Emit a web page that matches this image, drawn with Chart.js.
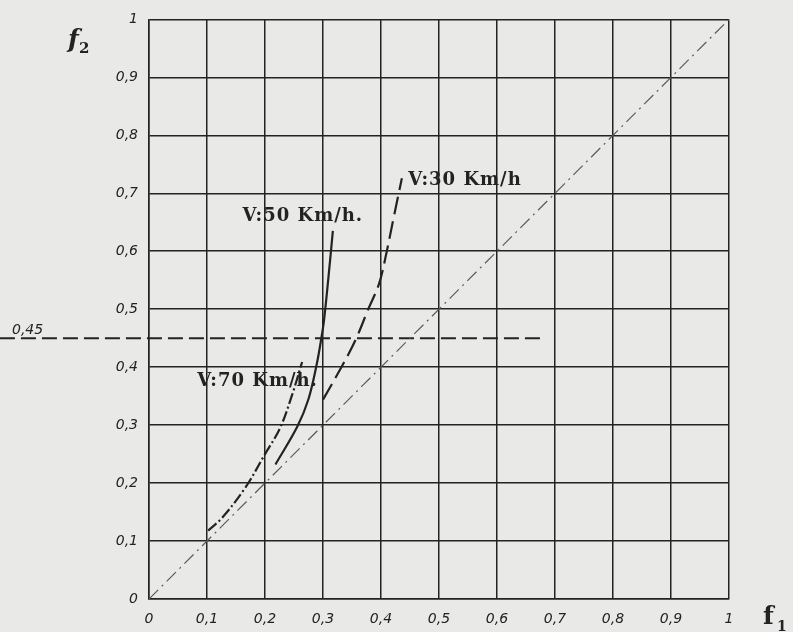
<!DOCTYPE html>
<html>
<head>
<meta charset="utf-8">
<title>f1 - f2</title>
<script src="https://cdn.jsdelivr.net/npm/chart.js@4.4.1/dist/chart.umd.min.js"></script>
<style>
  html, body { margin:0; padding:0; background:#e9e9e8; }
  canvas { display:block; }
</style>
</head>
<body>
<canvas id="chart" width="793" height="632"></canvas>
<script>
// tick values (same on both axes)
let tickValues = [0,0.1,0.2,0.3,0.4,0.5,0.6,0.7,0.8,0.9,1];

// reference line f2 = f1
let diagonal = [[0,0],[1,1]];

// horizontal limit at 0.45 (starts left of the axis, off the grid)
let limitLevel = 0.45;
let limitFrom = -0.257;
let limitTo = 0.68;

// curves, [f1, f2]
let v30 = [[0.300,0.344],[0.334,0.404],[0.357,0.449],[0.378,0.500],[0.397,0.545],[0.410,0.600],[0.421,0.654],[0.436,0.726]];
let v50 = [[0.218,0.232],[0.256,0.298],[0.275,0.345],[0.289,0.404],[0.297,0.449],[0.302,0.483],[0.309,0.551],[0.317,0.635]];
let v70 = [[0.102,0.118],[0.126,0.140],[0.166,0.192],[0.200,0.250],[0.226,0.295],[0.247,0.353],[0.264,0.409]];

// curve labels: text and the f1/f2 point where the text starts
let curveLabels = ["V:50 Km/h.", "V:30 Km/h", "V:70 Km/h."];
let labelAt = [[0.161,0.661],[0.447,0.723],[0.083,0.375]];

const toXY = arr => arr.map(p => ({x:p[0], y:p[1]}));
const fmt = v => {
  const r = Math.round(v*10)/10;
  if (r === 0) return "0";
  if (r === 1) return "1";
  return r.toFixed(1).replace(".", ",");
};

const ink = "#232323";

// text on top of the grid
const notes = {
  id: "notes",
  afterDatasetsDraw(chart) {
    const ctx = chart.ctx;
    const xs = chart.scales.x, ys = chart.scales.y;
    ctx.save();
    ctx.fillStyle = ink;
    ctx.textBaseline = "middle";
    ctx.textAlign = "left";
    ctx.font = 'bold 18px "DejaVu Serif"';
    if ("letterSpacing" in ctx) ctx.letterSpacing = "1px";
    curveLabels.forEach((t, i) => {
      ctx.fillText(t, xs.getPixelForValue(labelAt[i][0]), ys.getPixelForValue(labelAt[i][1]));
    });
    if ("letterSpacing" in ctx) ctx.letterSpacing = "0px";

    // 0,45 written over the dashed line, left of the axis
    ctx.font = 'italic 14px "DejaVu Sans"';
    ctx.textBaseline = "alphabetic";
    ctx.fillText("0,45", 12, ys.getPixelForValue(limitLevel) - 4);

    // axis names
    ctx.font = 'italic bold 25px "DejaVu Serif"';
    ctx.fillText("f", 68, 47);
    ctx.font = 'bold 15px "DejaVu Serif"';
    ctx.fillText("2", 79, 53);
    ctx.font = 'bold 25px "DejaVu Serif"';
    ctx.fillText("f", 763, 624);
    ctx.font = 'bold 14px "DejaVu Serif"';
    ctx.fillText("1", 777, 631);
    ctx.restore();
  }
};

const fixTicks = scale => { scale.ticks = tickValues.map(v => ({value:v})); };

const curve = (label, pts, dash) => ({
  label: label,
  data: toXY(pts),
  showLine: true,
  borderColor: ink,
  borderWidth: 2.2,
  borderDash: dash,
  tension: 0.35,
  pointRadius: 0
});

new Chart(document.getElementById("chart"), {
  type: "scatter",
  data: {
    datasets: [
      {
        label: "f2 = f1",
        data: toXY(diagonal),
        showLine: true,
        borderColor: "#5a5a5a",
        borderWidth: 1.2,
        borderDash: [13,5,2,5],
        pointRadius: 0
      },
      {
        label: "0,45",
        data: [{x:limitFrom, y:limitLevel}, {x:limitTo, y:limitLevel}],
        showLine: true,
        clip: false,
        borderColor: ink,
        borderWidth: 2,
        borderDash: [15,6],
        pointRadius: 0
      },
      curve(curveLabels[1], v30, [18,7]),
      curve(curveLabels[0], v50, []),
      curve(curveLabels[2], v70, [11,3,2,3])
    ]
  },
  options: {
    responsive: false,
    devicePixelRatio: 1,
    animation: false,
    layout: { padding: { top: 15, right: 64, left: 0, bottom: 0 } },
    plugins: { legend: { display: false }, tooltip: { enabled: false } },
    scales: {
      x: {
        type: "linear",
        min: 0, max: 1,
        afterBuildTicks: fixTicks,
        afterFit: s => { s.height = 33; },
        grid: { color: ink, lineWidth: 1.5, drawTicks: false },
        border: { color: ink, width: 1.5 },
        ticks: {
          padding: 12,
          color: ink,
          font: { family: "DejaVu Sans", style: "italic", size: 14 },
          callback: fmt,
          maxRotation: 0
        }
      },
      y: {
        type: "linear",
        min: 0, max: 1,
        afterBuildTicks: fixTicks,
        afterFit: s => { s.width = 149; },
        grid: { color: ink, lineWidth: 1.5, drawTicks: false },
        border: { color: ink, width: 1.5 },
        ticks: {
          padding: 11,
          color: ink,
          font: { family: "DejaVu Sans", style: "italic", size: 14 },
          callback: fmt
        }
      }
    }
  },
  plugins: [notes]
});
</script>
</body>
</html>
